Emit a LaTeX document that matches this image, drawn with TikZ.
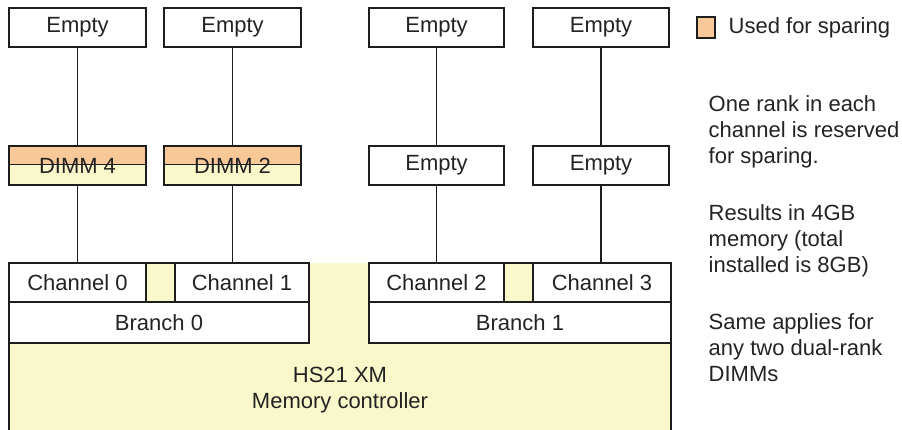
\documentclass[tikz,border=0pt]{standalone}
\usepackage{fontspec}
\setmainfont{Liberation Sans}
\definecolor{sparefill}{RGB}{249,200,152}
\definecolor{ctrlfill}{RGB}{248,248,202}
\definecolor{edge}{RGB}{30,30,30}
\definecolor{ink}{RGB}{35,35,35}
\begin{document}
\begin{tikzpicture}[x=1pt,y=-1pt,line width=1.4pt,
  every node/.style={font=\fontsize{22}{26}\selectfont,text=ink},
  box/.style={draw=edge,fill=white,inner sep=0pt,minimum height=39pt},
  dimm/.style={box,fill=ctrlfill,
    path picture={\fill[sparefill] (path picture bounding box.north west)
      rectangle ([yshift=1pt]path picture bounding box.east);}},
  bus/.style={draw=edge},
  note/.style={anchor=north west,align=left,inner sep=0pt}]
\useasboundingbox (0,0) rectangle (902,430);

% memory controller body, open at the bottom
\fill[ctrlfill] (9,263) rectangle (671,432);
\draw[edge] (9,432) -- (9,263) -- (309,263);
\draw[edge] (369,263) -- (671,263) -- (671,432);
\node[align=center,inner sep=0pt] (ctrl) at (340,390) {HS21 XM\\Memory controller};

% channels and branches
\node[box,minimum width=137pt] (ch0) at (77.5,282.5) {Channel 0};
\node[box,minimum width=134pt] (ch1) at (242,282.5) {Channel 1};
\node[box,minimum width=135pt] (ch2) at (436.5,282.5) {Channel 2};
\node[box,minimum width=138pt] (ch3) at (602,282.5) {Channel 3};
\node[box,minimum width=300pt,minimum height=41pt] (br0) at (159,322.5) {Branch 0};
\node[box,minimum width=302pt,minimum height=41pt] (br1) at (520,322.5) {Branch 1};

% DIMM slots, far row
\node[box,minimum width=137pt] (e1) at (77.5,27.5) {Empty};
\node[box,minimum width=137pt] (e2) at (232.5,27.5) {Empty};
\node[box,minimum width=135pt] (e3) at (436.5,27.5) {Empty};
\node[box,minimum width=136pt] (e4) at (601,27.5) {Empty};

% DIMM slots, near row
\node[dimm,minimum width=137pt] (d4) at (77.5,165.5) {DIMM 4};
\node[dimm,minimum width=137pt] (d2) at (232.5,165.5) {DIMM 2};
\node[box,minimum width=135pt] (e5) at (436.5,165.5) {Empty};
\node[box,minimum width=136pt] (e6) at (601,165.5) {Empty};
\draw[edge] ([yshift=1pt]d4.west) -- ([yshift=1pt]d4.east);
\draw[edge] ([yshift=1pt]d2.west) -- ([yshift=1pt]d2.east);

% channel buses
\draw[bus] (e1) -- (d4);
\draw[bus] (e2) -- (d2);
\draw[bus] (e3) -- (e5);
\draw[bus] (e4) -- (e6);
\draw[bus] (d4.south) -- (d4.south |- ch0.north);
\draw[bus] (d2.south) -- (d2.south |- ch1.north);
\draw[bus] (e5.south) -- (e5.south |- ch2.north);
\draw[bus] (e6.south) -- (e6.south |- ch3.north);

% legend
\node[draw=edge,fill=sparefill,inner sep=0pt,minimum width=18pt,minimum height=21pt] (key) at (706,27.5) {};
\node[anchor=west,inner sep=0pt] (keytext) at (728,27.5) {Used for sparing};

% notes
\node[note] (n1) at (708,95) {One rank in each\\channel is reserved\\for sparing.};
\node[note] (n2) at (708,204) {Results in 4GB\\memory (total\\installed is 8GB)};
\node[note] (n3) at (708,313) {Same applies for\\any two dual-rank\\DIMMs};
\end{tikzpicture}
\end{document}
